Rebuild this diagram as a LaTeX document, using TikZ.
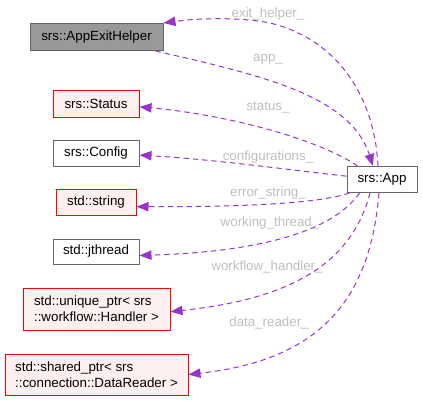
\documentclass[tikz,border=0pt]{standalone}
\usepackage{fontspec}
\setmainfont{Liberation Sans}
\usetikzlibrary{arrows.meta}

\definecolor{edgepurple}{HTML}{9A32CD}
\definecolor{lblgray}{HTML}{BEBEBE}
\definecolor{redfill}{HTML}{FFF0F0}
\definecolor{nodegray}{HTML}{666666}
\definecolor{curfill}{HTML}{999999}

\tikzset{
  cls/.style={draw, rectangle, inner sep=0pt, font=\fontsize{10}{12}\selectfont, line width=0.75pt, align=left},
  plaincls/.style={cls, draw=nodegray, fill=white},
  undoc/.style={cls, draw=red, fill=redfill},
  current/.style={cls, draw=nodegray, fill=curfill},
  member/.style={draw=edgepurple, line width=0.75pt, dash pattern=on 4pt off 3pt, -{Triangle[length=9pt,width=7pt]}},
  lbl/.style={text=lblgray, font=\fontsize{10}{12}\selectfont}
}

\begin{document}
\begin{tikzpicture}[x=0.75pt,y=-0.75pt]
  \useasboundingbox (0,0) rectangle (423,400);

  \node[current, minimum width=133*0.75pt, minimum height=27*0.75pt] (helper) at (96.5,37) {srs::AppExitHelper};
  \node[undoc, minimum width=86*0.75pt, minimum height=27*0.75pt] (status) at (96,103.5) {srs::Status};
  \node[plaincls, minimum width=86*0.75pt, minimum height=26*0.75pt] (config) at (96,153) {srs::Config};
  \node[undoc, minimum width=80*0.75pt, minimum height=26*0.75pt] (str) at (96,202) {std::string};
  \node[plaincls, minimum width=86*0.75pt, minimum height=25*0.75pt] (jthread) at (96,251.5) {std::jthread};
  \node[undoc, minimum width=147*0.75pt, minimum height=42*0.75pt] (handler) at (96.5,309) {std::unique\_ptr< srs\\::workflow::Handler >};
  \node[undoc, minimum width=183*0.75pt, minimum height=41*0.75pt] (reader) at (96.5,374.5) {std::shared\_ptr< srs\\::connection::DataReader >};
  \node[plaincls, minimum width=70*0.75pt, minimum height=26*0.75pt] (app) at (382,179.5) {srs::App};

  \draw[member] ([xshift=-3pt]app.north) .. controls (375,100) and (340,40) .. (270,23) .. controls (240,17) and (200,18) .. (helper.north east);
  \draw[member] ([xshift=-6pt]helper.south east) .. controls (260,75) and (350,95) .. ([xshift=-6.75pt]app.north);
  \draw[member] ([xshift=8.25pt]app.north west) .. controls (320,140) and (230,115) .. ([yshift=-2.5pt]status.east);
  \draw[member] ([yshift=2.5pt]app.west) .. controls (290,170) and (220,160) .. ([yshift=-1.5pt]config.east);
  \draw[member] ([xshift=2.25pt]app.south west) .. controls (320,203) and (250,207) .. ([yshift=-3.5pt]str.east);
  \draw[member] ([xshift=9.75pt]app.south west) .. controls (330,235) and (250,252) .. ([yshift=-3pt]jthread.east);
  \draw[member] ([xshift=-9pt]app.south) .. controls (350,270) and (280,300) .. ([yshift=-2pt]handler.east);
  \draw[member] ([xshift=-2.25pt]app.south) .. controls (370,300) and (320,360) .. (reader.east);

  \node[lbl] (l1) at (268,14) {exit\_helper\_};
  \node[lbl] (l2) at (268,59) {app\_};
  \node[lbl] (l3) at (268,108) {status\_};
  \node[lbl] (l4) at (268,157) {configurations\_};
  \node[lbl] (l5) at (268,193) {error\_string\_};
  \node[lbl] (l6) at (270,223) {working\_thread\_};
  \node[lbl] (l7) at (267,267) {workflow\_handler\_};
  \node[lbl] (l8) at (269,323) {data\_reader\_};
\end{tikzpicture}
\end{document}
